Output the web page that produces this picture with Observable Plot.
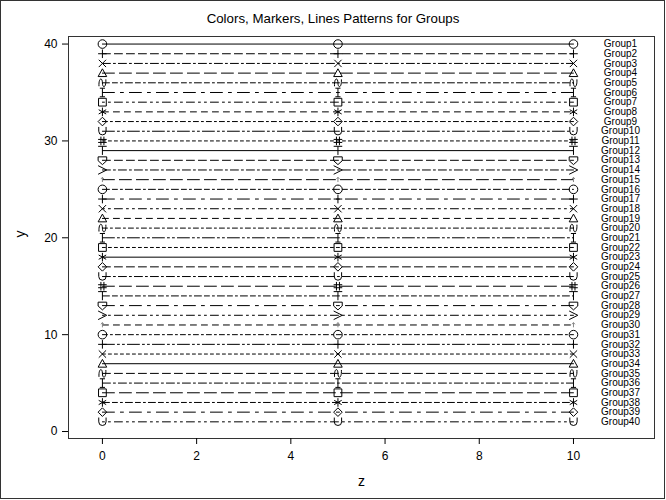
<!DOCTYPE html>
<html><head><meta charset="utf-8">
<script src="https://cdn.jsdelivr.net/npm/d3@7"></script>
<script src="https://cdn.jsdelivr.net/npm/@observablehq/plot@0.6"></script>
<style>
html,body{margin:0;padding:0;background:#fff;}
#wrap{position:relative;width:666px;height:500px;overflow:hidden;font-family:"Liberation Sans",Arial,sans-serif;}
#border{position:absolute;left:0;top:0;width:665px;height:499px;border:1px solid #333;box-sizing:border-box;pointer-events:none;}
#title{position:absolute;left:0;top:10px;width:666px;text-align:center;font-size:13.3px;line-height:18px;color:#000;}
#chart{position:absolute;left:0;top:30px;}
</style>
</head><body>
<div id="wrap"><div id="title">Colors, Markers, Lines Patterns for Groups</div><div id="chart"></div><div id="border"></div></div>
<script>
const groups = ["Group1","Group2","Group3","Group4","Group5","Group6","Group7","Group8","Group9","Group10",
  "Group11","Group12","Group13","Group14","Group15","Group16","Group17","Group18","Group19","Group20",
  "Group21","Group22","Group23","Group24","Group25","Group26","Group27","Group28","Group29","Group30",
  "Group31","Group32","Group33","Group34","Group35","Group36","Group37","Group38","Group39","Group40"];
const yValues = [40,39,38,37,36,35,34,33,32,31,30,29,28,27,26,25,24,23,22,21,20,19,18,17,16,15,14,13,12,11,10,9,8,7,6,5,4,3,2,1];
const zValues = [0, 5, 10];
const xTicks = [0, 2, 4, 6, 8, 10];
const yTicks = [0, 10, 20, 30, 40];
const markerNames = ["circle","plus","x","triangle","tilde","ibeam","square","asterisk","diamond","union","hash","tack","homedown","greaterthan","arrowup"];
const patternNames = ["solid","dash","longdashdot","longdash","dashdashdot","longshort","dotdotdash","mediumdash","dashdot","longdashdotdot","shortdash"];

// styles
const dashes = {
  solid: null,
  dash: "8,4",
  longdashdot: "8,3,2,3",
  longdash: "12,5",
  dashdashdot: "7,3,5,3,2,3",
  longshort: "12,6,3,6",
  dotdotdash: "2,4,2,4,8,4",
  mediumdash: "6,5",
  dashdot: "5,3,2,3",
  longdashdotdot: "12,3,2,3,2,3",
  shortdash: "3,3"
};
function sym(fn) { return {draw(ctx, size) { fn(ctx, Math.sqrt(size / Math.PI)); }}; }
const symbols = {
  circle: sym((c, r) => { c.moveTo(r, 0); c.arc(0, 0, r, 0, 2 * Math.PI); }),
  plus: sym((c, r) => { c.moveTo(-r, 0); c.lineTo(r, 0); c.moveTo(0, -r); c.lineTo(0, r); }),
  x: sym((c, r) => { const a = r * 0.85; c.moveTo(-a, -a); c.lineTo(a, a); c.moveTo(-a, a); c.lineTo(a, -a); }),
  triangle: sym((c, r) => { c.moveTo(0, -r); c.lineTo(r, r * 0.8); c.lineTo(-r, r * 0.8); c.closePath(); }),
  tilde: sym((c, r) => { c.moveTo(-r * 0.8, r * 0.8); c.bezierCurveTo(-r * 0.9, -r * 1.3, 0, -r * 1.3, 0, 0); c.bezierCurveTo(0, r * 1.3, r * 0.9, r * 1.3, r * 0.8, -r * 0.8); }),
  ibeam: sym((c, r) => { const w = r * 0.6; c.moveTo(-w, -r); c.lineTo(w, -r); c.moveTo(-w, r); c.lineTo(w, r); c.moveTo(0, -r); c.lineTo(0, r); }),
  square: sym((c, r) => { const a = r * 0.9; c.moveTo(-a, -a); c.lineTo(a, -a); c.lineTo(a, a); c.lineTo(-a, a); c.closePath(); }),
  asterisk: sym((c, r) => { const dx = r * 0.87, dy = r * 0.5; c.moveTo(0, -r); c.lineTo(0, r); c.moveTo(-dx, -dy); c.lineTo(dx, dy); c.moveTo(-dx, dy); c.lineTo(dx, -dy); }),
  diamond: sym((c, r) => { c.moveTo(0, -r); c.lineTo(r, 0); c.lineTo(0, r); c.lineTo(-r, 0); c.closePath(); }),
  union: sym((c, r) => { const a = r * 0.85; c.moveTo(-a, -r); c.lineTo(-a, 0); c.arc(0, 0, a, Math.PI, 0, true); c.lineTo(a, -r); }),
  hash: sym((c, r) => { const t = r * 0.35; c.moveTo(-t, -r); c.lineTo(-t, r); c.moveTo(t, -r); c.lineTo(t, r); c.moveTo(-r, -t); c.lineTo(r, -t); c.moveTo(-r, t); c.lineTo(r, t); }),
  tack: sym((c, r) => { c.moveTo(-r, -r); c.lineTo(r, -r); c.moveTo(0, -r); c.lineTo(0, r); }),
  homedown: sym((c, r) => { c.moveTo(-r, -r * 0.8); c.lineTo(r, -r * 0.8); c.lineTo(r, r * 0.1); c.lineTo(0, r); c.lineTo(-r, r * 0.1); c.closePath(); }),
  greaterthan: sym((c, r) => { c.moveTo(-r, -r); c.lineTo(r, 0); c.lineTo(-r, r); }),
  arrowup: sym((c, r) => { const a = r * 0.55; c.moveTo(0, a); c.lineTo(0, -a); c.moveTo(-a * 0.6, -a * 0.3); c.lineTo(0, -a); c.lineTo(a * 0.6, -a * 0.3); })
};

const rows = [];
groups.forEach((g, i) => {
  zValues.forEach(z => rows.push({group: g, y: yValues[i], z, marker: markerNames[i % markerNames.length], pattern: patternNames[i % patternNames.length]}));
});
const labelRows = groups.map((g, i) => ({group: g, y: yValues[i], z: zValues[zValues.length - 1]}));

const marks = [];
patternNames.forEach(p => {
  marks.push(Plot.line(rows.filter(d => d.pattern === p), {x: "z", y: "y", z: "group", stroke: "#000", strokeWidth: 1, strokeDasharray: dashes[p]}));
});
markerNames.forEach(m => {
  marks.push(Plot.dot(rows.filter(d => d.marker === m), {x: "z", y: "y", r: 4.3, symbol: symbols[m], stroke: m === "arrowup" ? "#888" : "#000", strokeWidth: 1, fill: "none"}));
});
marks.push(Plot.text(labelRows, {x: "z", y: "y", text: "group", dx: 47, textAnchor: "middle", fontSize: 10, fill: "#000"}));
marks.push(Plot.frame({stroke: "#333"}));
marks.push(Plot.axisX({ticks: xTicks, tickSize: 6, tickPadding: 7, fontSize: 12, label: null}));
marks.push(Plot.axisY({ticks: yTicks, tickSize: 6, tickPadding: 5, fontSize: 12, label: null}));
marks.push(Plot.text(["z"], {frameAnchor: "bottom", dy: 43, lineAnchor: "middle", fontSize: 14, fill: "#000"}));
marks.push(Plot.text(["y"], {frameAnchor: "left", dx: -48, rotate: -90, lineAnchor: "middle", fontSize: 14, fill: "#000"}));

const chart = Plot.plot({
  width: 666, height: 470,
  marginLeft: 68, marginRight: 12, marginTop: 6, marginBottom: 62,
  x: {domain: [-0.72, 11.72]},
  y: {domain: [-0.72, 40.78]},
  style: {fontFamily: "Liberation Sans, Arial, sans-serif", color: "#000", background: "transparent"},
  marks
});
document.getElementById("chart").appendChild(chart);
</script>
</body></html>
